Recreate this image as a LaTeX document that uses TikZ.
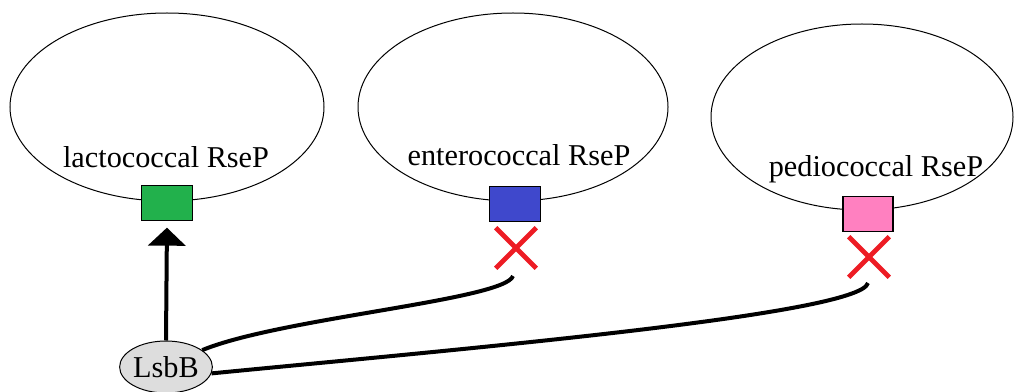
\documentclass[tikz,border=0pt]{standalone}
\usepackage{fontspec}
\setmainfont{Liberation Serif}
\usetikzlibrary{shapes.geometric,arrows.meta}
\definecolor{lgreen}{HTML}{22B14C}
\definecolor{eblue}{HTML}{3F48CC}
\definecolor{ppink}{HTML}{FF80C0}
\definecolor{xred}{HTML}{ED1C24}
\definecolor{pepgray}{HTML}{DDDDDD}
\begin{document}
\begin{tikzpicture}[x=0.75pt,y=-0.75pt,
  cell/.style={draw=black,line width=0.75pt,ellipse,inner sep=0pt},
  site/.style={draw=black,line width=1pt,rectangle,inner sep=0pt,minimum width=38.25pt,minimum height=26pt},
  lbl/.style={anchor=base,inner sep=0pt,font=\fontsize{22.7}{26}\selectfont},
  xmark/.style={inner sep=0pt,minimum size=30pt},
  xline/.style={draw=xred,line width=3.6pt},
  link/.style={draw=black,line width=3pt},
  peptide/.style={draw=black,line width=0.75pt,ellipse,fill=pepgray,inner sep=0pt,
    minimum width=64.5pt,minimum height=39pt,font=\fontsize{22.7}{26}\selectfont}]
\useasboundingbox (0,0) rectangle (1016,392);

% bacterial cells
\node[cell,minimum width=235.5pt,minimum height=141pt] (lac) at (167,107) {};
\node[cell,minimum width=232.5pt,minimum height=141pt] (ent) at (513,107) {};
\node[cell,minimum width=226.5pt,minimum height=139.5pt] (ped) at (862,117) {};

% cell names
\node[lbl] (laclbl) at (166,167) {lactococcal RseP};
\node[lbl] (entlbl) at (519,166) {enterococcal RseP};
\node[lbl] (pedlbl) at (876,176) {pediococcal RseP};

% receptor sites
\node[site,fill=lgreen] (lacsite) at (167,203) {};
\node[site,fill=eblue] (entsite) at (515,204) {};
\node[site,fill=ppink,minimum width=37.5pt] (pedsite) at (868,214) {};

% blocked marks
\node[xmark] (entx) at (516,248) {};
\node[xmark] (pedx) at (869,257) {};
\draw[xline] (entx.north west) -- (entx.south east) (entx.north east) -- (entx.south west);
\draw[xline] (pedx.north west) -- (pedx.south east) (pedx.north east) -- (pedx.south west);

% bacteriocin
\node[peptide] (lsbb) at (166,367) {LsbB};

% interactions
\draw[link,-{Triangle[width=27.75pt,length=13.5pt]},shorten >=5pt] (lsbb.north) -- (lacsite.south);
\coordinate (entend) at (513,276);
\coordinate (pedend) at (868,283);
\draw[link] (lsbb.25) .. controls (280,318) and (505,300) .. (entend);
\draw[link] (lsbb.-8) .. controls (450,350) and (860,315) .. (pedend);
\end{tikzpicture}
\end{document}
